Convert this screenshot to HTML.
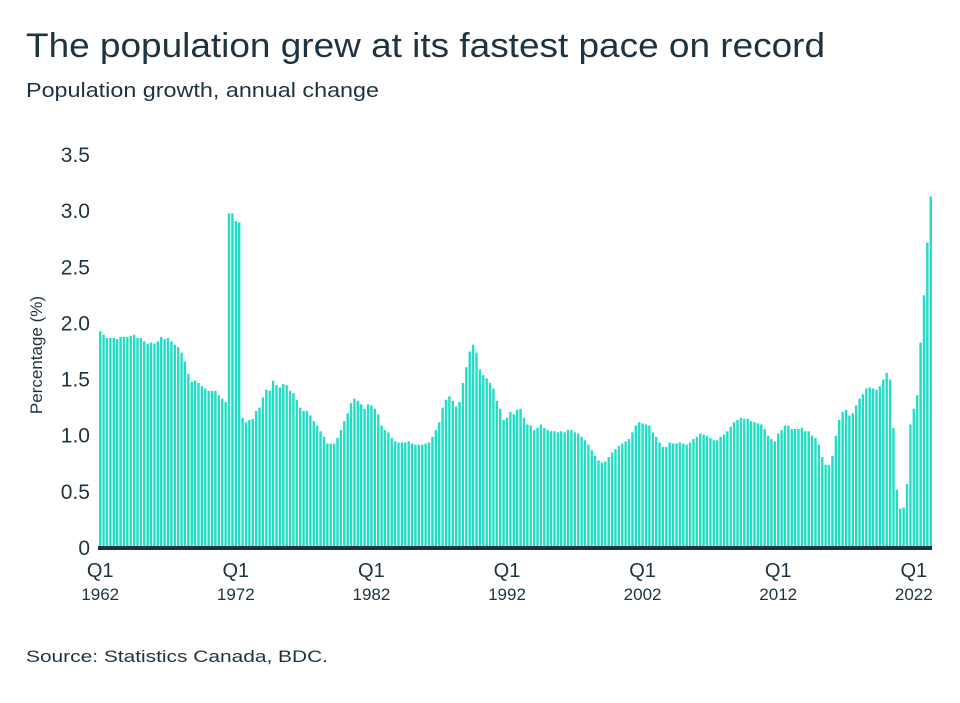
<!DOCTYPE html>
<html><head><meta charset="utf-8"><style>
body{margin:0;background:#fff;width:960px;height:698px;overflow:hidden;font-family:"Liberation Sans",sans-serif;color:#1d3340}
</style></head><body>
<svg width="960" height="698" xmlns="http://www.w3.org/2000/svg">
<text x="26" y="57" font-size="34" fill="#1d3340" textLength="799" lengthAdjust="spacingAndGlyphs">The population grew at its fastest pace on record</text>
<text x="26" y="97" font-size="20" fill="#1d3340" textLength="353" lengthAdjust="spacingAndGlyphs">Population growth, annual change</text>
<text transform="translate(42,355) rotate(-90)" text-anchor="middle" font-size="17" fill="#1d3340">Percentage (%)</text>
<g id="yt"></g>
<g id="bars"></g>
<rect x="98" y="546" width="834" height="4" fill="#1d3340"/>
<g id="xt"></g>
<text x="26" y="662" font-size="17" fill="#1d3340" textLength="302" lengthAdjust="spacingAndGlyphs">Source: Statistics Canada, BDC.</text>
</svg>
<script>
const yTicks=[0,0.5,1.0,1.5,2.0,2.5,3.0,3.5];
const yTickLabels=["0","0.5","1.0","1.5","2.0","2.5","3.0","3.5"];
const xTickIdx=[0,40,80,120,160,200,240];
const xTickYears=["1962","1972","1982","1992","2002","2012","2022"];
const growth=[1.93,1.90,1.87,1.87,1.87,1.86,1.88,1.88,1.88,1.89,1.90,1.87,1.87,1.84,1.82,1.83,1.82,1.84,1.88,1.86,1.87,1.84,1.81,1.79,1.74,1.66,1.55,1.48,1.49,1.47,1.44,1.42,1.40,1.40,1.40,1.36,1.33,1.30,2.98,2.98,2.91,2.90,1.16,1.12,1.14,1.15,1.22,1.25,1.34,1.41,1.40,1.49,1.45,1.43,1.46,1.45,1.40,1.38,1.32,1.25,1.22,1.22,1.18,1.13,1.09,1.04,0.99,0.93,0.93,0.93,0.98,1.05,1.13,1.20,1.29,1.33,1.31,1.28,1.24,1.28,1.27,1.24,1.19,1.09,1.05,1.03,0.98,0.95,0.94,0.94,0.94,0.95,0.93,0.92,0.92,0.92,0.93,0.94,0.99,1.05,1.12,1.25,1.32,1.35,1.31,1.26,1.30,1.47,1.61,1.75,1.81,1.74,1.59,1.54,1.51,1.47,1.42,1.31,1.24,1.14,1.16,1.21,1.19,1.23,1.24,1.16,1.10,1.09,1.05,1.07,1.10,1.07,1.05,1.04,1.04,1.03,1.04,1.03,1.05,1.05,1.03,1.02,0.99,0.96,0.92,0.87,0.82,0.78,0.76,0.77,0.81,0.85,0.88,0.91,0.93,0.95,0.97,1.03,1.09,1.12,1.11,1.10,1.09,1.03,0.99,0.94,0.90,0.90,0.94,0.93,0.93,0.94,0.93,0.92,0.94,0.97,0.99,1.02,1.01,1.00,0.98,0.96,0.96,0.99,1.01,1.04,1.08,1.12,1.14,1.16,1.15,1.15,1.13,1.12,1.11,1.10,1.06,1.00,0.97,0.95,1.02,1.05,1.09,1.09,1.06,1.06,1.06,1.07,1.04,1.04,1.00,0.98,0.92,0.81,0.74,0.74,0.82,1.00,1.14,1.21,1.23,1.18,1.20,1.27,1.33,1.37,1.42,1.43,1.42,1.41,1.44,1.50,1.56,1.50,1.07,0.52,0.35,0.36,0.57,1.10,1.24,1.36,1.83,2.25,2.72,3.13];
const NS="http://www.w3.org/2000/svg";
const y0=548, pxPerUnit=112.3;
function yScale(v){return y0-v*pxPerUnit;}
function xScale(i){return 99+i*3.39;}
const bars=document.getElementById('bars');
growth.forEach((v,i)=>{
  const r=document.createElementNS(NS,'rect');
  r.setAttribute('x',xScale(i));
  r.setAttribute('y',yScale(v));
  r.setAttribute('width',2.4);
  r.setAttribute('height',Math.max(0,y0-yScale(v)));
  r.setAttribute('fill','#22dcc5');
  
  
  bars.appendChild(r);
});
const yt=document.getElementById('yt');
yTicks.forEach((t,k)=>{
  const tx=document.createElementNS(NS,'text');
  tx.setAttribute('x',90);
  tx.setAttribute('y',yScale(t)+7);
  tx.setAttribute('text-anchor','end');
  tx.setAttribute('font-size','21');
  tx.setAttribute('fill','#1d3340');
  tx.textContent=yTickLabels[k];
  
  
  yt.appendChild(tx);
});
const xt=document.getElementById('xt');
xTickIdx.forEach((idx,k)=>{
  const cx=xScale(idx)+1.2;
  const q=document.createElementNS(NS,'text');
  q.setAttribute('x',cx);q.setAttribute('y',577);
  q.setAttribute('text-anchor','middle');q.setAttribute('font-size','20');q.setAttribute('fill','#1d3340');
  q.textContent='Q1';
  
  
  xt.appendChild(q);
  const yr=document.createElementNS(NS,'text');
  yr.setAttribute('x',cx);yr.setAttribute('y',600);
  yr.setAttribute('text-anchor','middle');yr.setAttribute('font-size','17');yr.setAttribute('fill','#1d3340');
  yr.textContent=xTickYears[k];
  
  
  xt.appendChild(yr);
});
</script>
</body></html>
